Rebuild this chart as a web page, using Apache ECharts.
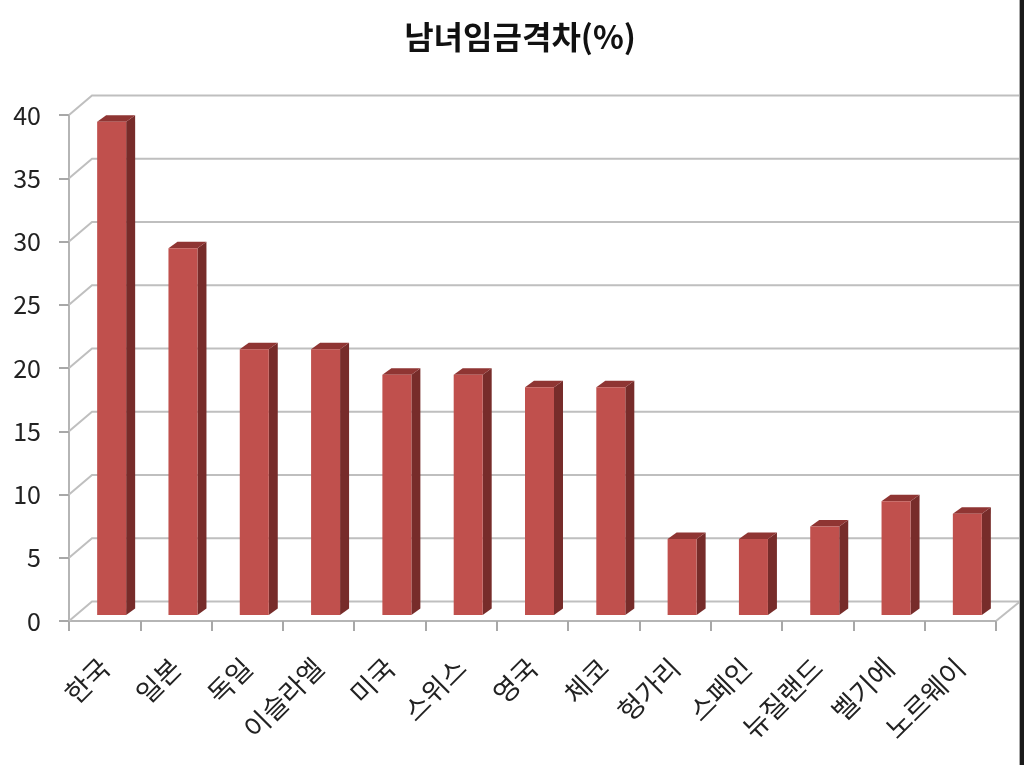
<!DOCTYPE html>
<html><head><meta charset="utf-8">
<style>html,body{margin:0;padding:0;background:#fff}#c{width:1024px;height:765px}</style>
<script src="https://cdn.jsdelivr.net/npm/echarts@6/dist/echarts.min.js"></script>
</head><body><div id="c"></div>
<script>
const categories = ['한국','일본','독일','이슬라엘','미국','스위스','영국','체코','헝가리','스페인','뉴질랜드','벨기에','노르웨이'];
const values = [39,29,21,21,19,19,18,18,6,6,7,9,8];
const wallTicks = [0,5,10,15,20,25,30,35,40];
const FONT = '"Noto Sans CJK KR"';
const chart = echarts.init(document.getElementById('c'), null, {renderer:'canvas'});

function renderWall(params, api){
  const v = api.value(0);
  const p = api.coord([0, v]);
  const g = params.coordSys;
  const x0 = g.x, x1 = g.x + g.width, y = p[1];
  const dx = 23, dy = -19.5;
  const children = [{
    type:'polyline',
    shape:{points:[[x0,y],[x0+dx,y+dy],[x1+dx+1,y+dy]]},
    style:{fill:null,stroke:'#bfbfbf',lineWidth:2}
  }];
  if (v === 0) children.push({
    type:'line',
    shape:{x1:x1,y1:y,x2:x1+dx+1,y2:y+dy},
    style:{stroke:'#bfbfbf',lineWidth:2}
  });
  return {type:'group',children};
}
function renderBar(params, api){
  const top = api.coord([api.value(0), api.value(1)]);
  const base = api.coord([api.value(0), 0]);
  const w = 29, ox = 7, oy = -6, dx = 9, dy = -6.5;
  const l = top[0]+ox-w/2, r = l+w, t = top[1]+oy, b = base[1]+oy;
  return {type:'group',children:[
    {type:'polygon',shape:{points:[[r,t],[r+dx,t+dy],[r+dx,b+dy],[r,b]]},style:{fill:'#772c2a'}},
    {type:'polygon',shape:{points:[[l,t],[l+dx,t+dy],[r+dx,t+dy],[r,t]]},style:{fill:'#8f3533'}},
    {type:'rect',shape:{x:l,y:t,width:w,height:b-t},style:{fill:'#c0504d'}}
  ]};
}
chart.setOption({
  animation:false,
  backgroundColor:'#fff',
  title:{text:'남녀임금격차(%)',left:515,top:16,textAlign:'center',
    textStyle:{fontFamily:FONT,fontSize:32,fontWeight:'bold',color:'#111'}},
  grid:{left:69,right:28,top:115,bottom:144,containLabel:false},
  xAxis:{type:'category',data:categories,boundaryGap:true,
    axisLine:{lineStyle:{color:'#b5b5b5',width:2}},
    axisTick:{show:true,length:10,alignWithLabel:false,lineStyle:{color:'#a8a8a8',width:2}},
    axisLabel:{interval:0,rotate:45,margin:42,fontFamily:FONT,fontSize:27,color:'#222'},
    splitLine:{show:false}},
  yAxis:{type:'value',min:0,max:40,interval:5,
    axisLine:{show:true,lineStyle:{color:'#b5b5b5',width:2}},
    axisTick:{show:true,length:10,lineStyle:{color:'#a8a8a8',width:2}},
    axisLabel:{margin:28,fontFamily:FONT,fontSize:25,color:'#222'},
    splitLine:{show:false}},
  graphic:[
    {type:'rect',left:1019,top:0,shape:{width:1,height:765},style:{fill:'#aaaaaa'},z:100},
    {type:'rect',left:1020,top:0,shape:{width:4,height:765},style:{fill:'#1a1a1a'},z:100}
  ],
  series:[
    {type:'custom',coordinateSystem:'cartesian2d',renderItem:renderWall,clip:false,silent:true,z:1,
      encode:{y:0},data:wallTicks.map(v=>[v])},
    {type:'custom',coordinateSystem:'cartesian2d',renderItem:renderBar,clip:false,silent:true,z:3,
      encode:{x:0,y:1},data:values.map((v,i)=>[i,v])}
  ]
});
</script></body></html>
